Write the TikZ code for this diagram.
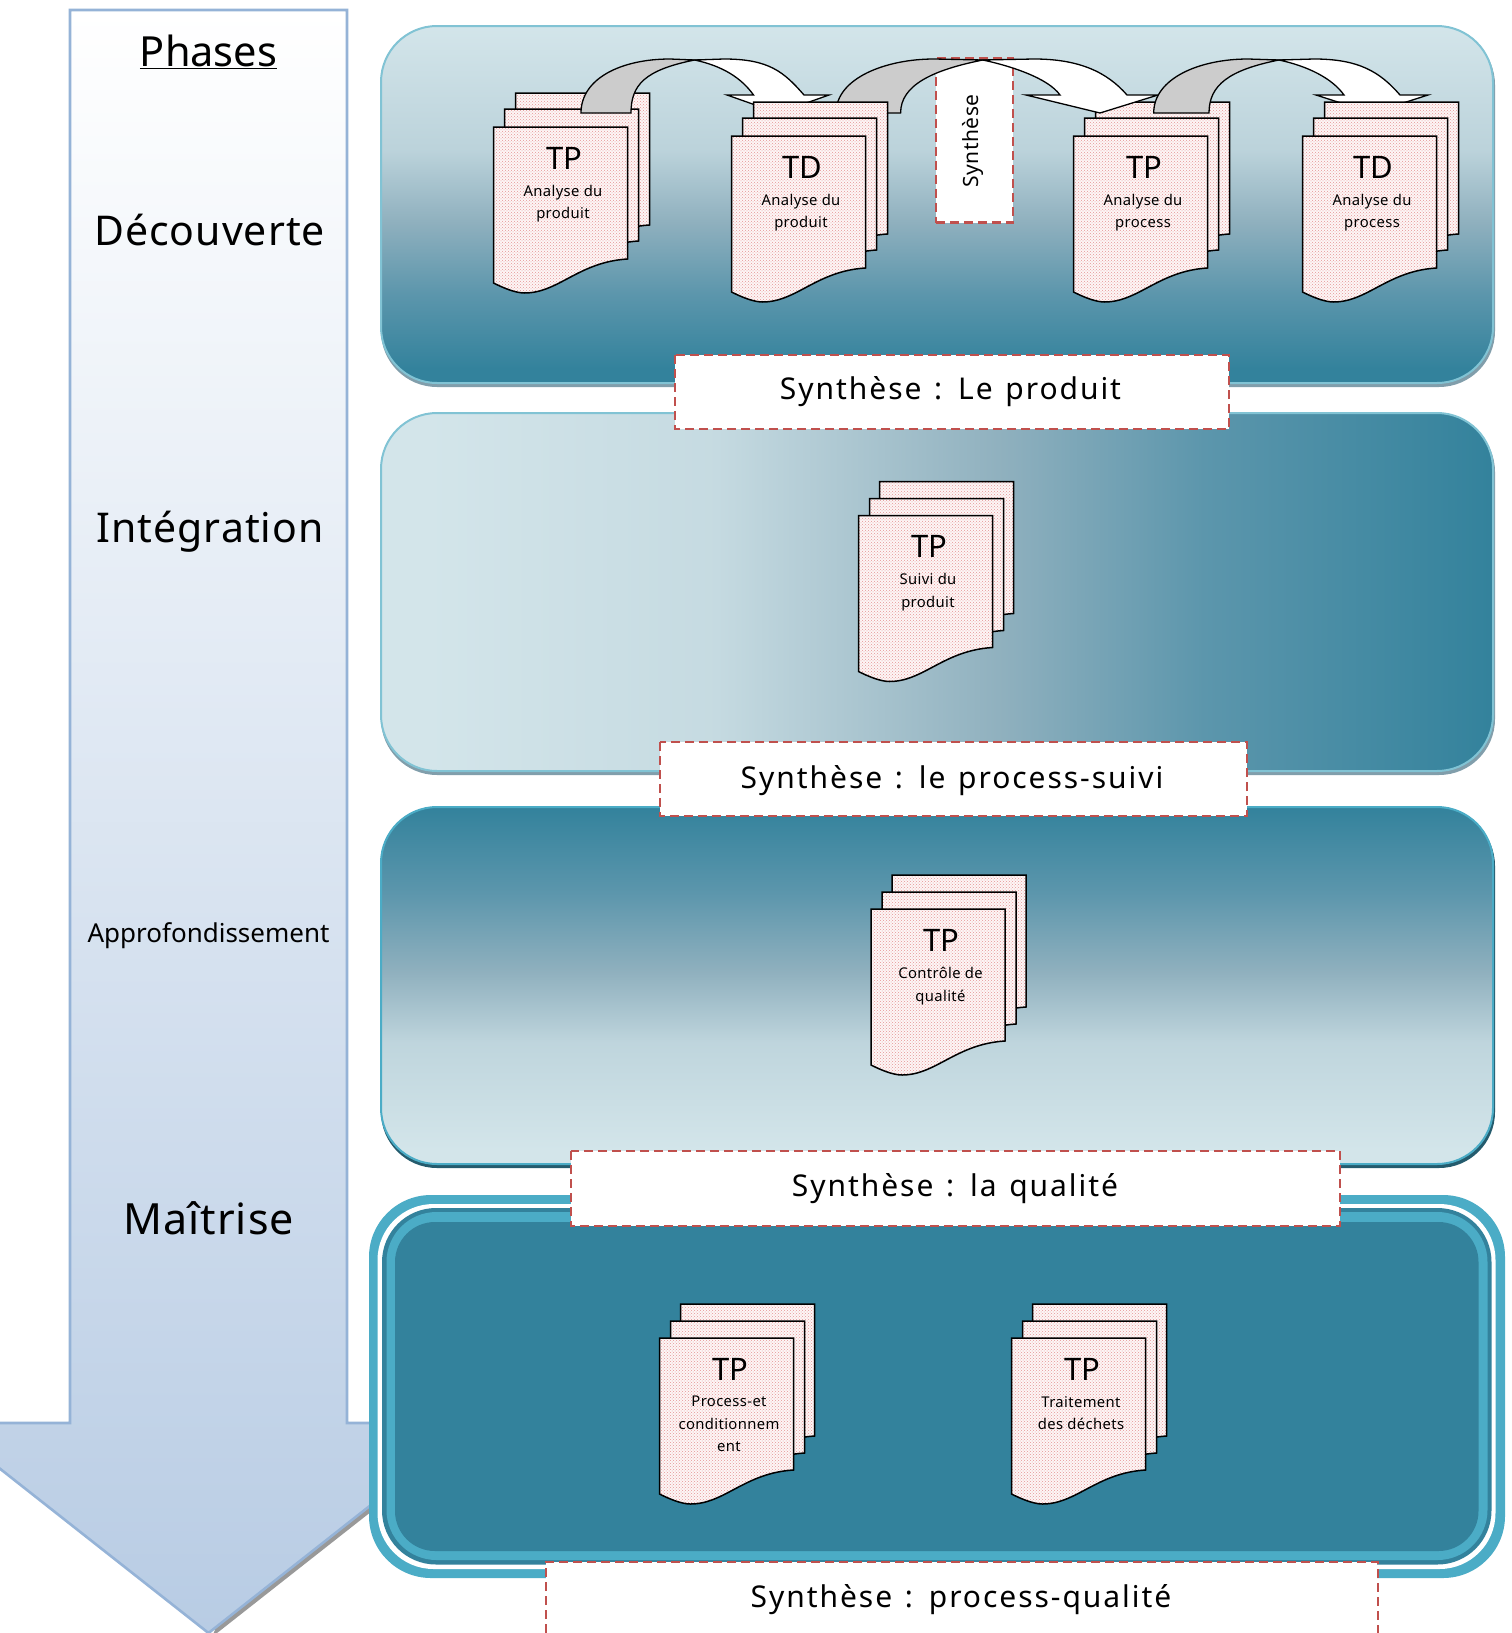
\documentclass[tikz,border=0pt]{standalone}
\usepackage{fontspec}
\setmainfont{Noto Sans}
\newfontfamily\spc[LetterSpace=2.5]{Noto Sans}
\newfontfamily\synf[LetterSpace=6.5,WordSpace=1.3]{Noto Sans}
\usetikzlibrary{patterns}
\definecolor{teal}{HTML}{33829C}
\definecolor{lite}{HTML}{4BACC6}
\definecolor{pale}{HTML}{D3E5EA}
\definecolor{mid}{HTML}{8FB0BE}
\definecolor{midb}{HTML}{5C96AC}
\definecolor{synred}{HTML}{C0504D}
\definecolor{arrowb}{HTML}{95B3D7}
\definecolor{arrowf}{HTML}{B8CCE4}
\definecolor{docdot}{HTML}{E59595}
\definecolor{docbase}{HTML}{FDF6F6}
\pgfdeclareverticalshading{panelone}{100bp}{color(0bp)=(teal);color(27bp)=(teal);color(37.5bp)=(midb);color(47.5bp)=(mid);color(57.5bp)=(pale!65!mid);color(75bp)=(pale);color(100bp)=(pale)}
\pgfdeclareverticalshading{panelthree}{100bp}{color(0bp)=(pale);color(27bp)=(pale);color(42bp)=(pale!70!mid);color(52bp)=(mid);color(63bp)=(midb);color(75bp)=(teal);color(100bp)=(teal)}
\pgfdeclarehorizontalshading{paneltwo}{100bp}{color(0bp)=(pale);color(27bp)=(pale);color(40bp)=(pale!80!mid);color(53bp)=(mid);color(62bp)=(midb);color(75bp)=(teal);color(100bp)=(teal)}
\pgfdeclareverticalshading{bigarrow}{100bp}{color(0bp)=(arrowf);color(25bp)=(arrowf);color(75bp)=(white);color(100bp)=(white)}
\tikzset{
 docshape/.style={draw=black,line width=1.5pt,line join=miter},
 synbox/.style={fill=white,draw=synred,line width=2.6pt,dash pattern=on 9pt off 5pt},
 grayband/.style={fill=black!20,draw=black,line width=1.3pt,line join=miter},
 whiteband/.style={fill=white,draw=black,line width=1.3pt,line join=miter},
 lbl/.style={inner sep=0pt,anchor=center,align=center,text=black},
}
\newcommand{\docpath}{(0,0) -- (134,0) -- (134,132) .. controls (85,135) and (65,166) .. (31,166) .. controls (22,166) and (10,161) .. (0,156) -- cycle}
\newcommand{\onedoc}{\fill[docbase] \docpath; \fill[pattern=crosshatch dots,pattern color=docdot] \docpath; \draw[docshape] \docpath;}
\newcommand{\docstack}[9]{% x y dx1 dy1 dx2 dy2 name title body
 \begin{scope}[shift={(#1,#2)}]
 \begin{scope}[shift={(#5,#6)}]\onedoc\end{scope}
 \begin{scope}[shift={(#3,#4)}]\onedoc\end{scope}
 \onedoc
 \node[lbl,font=\fontsize{31}{31}\selectfont] (#7t) at (70.5,31) {#8};
 \node[lbl,anchor=north,font=\fontsize{14.8}{22.5}\spc] (#7b) at (69.5,58) {#9};
 \end{scope}}
% curved arrow: Ax Bx Cx topL topR barbL innerbase outerbase barbR tipx
\newcommand{\curvedarrow}[9]{%
 \draw[whiteband] (#3,60) -- (#5,59) .. controls ({#5+45},59) and ({#8-20},72) .. (#8,95) -- (#9,95) -- (\tipx,113) -- (#6,95) -- (#7,95) .. controls ({#7-12},78) and ({#3+28},66) .. (#3,60) -- cycle;
 \draw[grayband] (#1,113) .. controls (#1,78) and ({#4-48},59) .. (#4,59) -- (#3,60) .. controls ({#3-50},70) and (#2,85) .. (#2,113) -- cycle;}
\begin{document}
\begin{tikzpicture}[x=1pt,y=-1pt]
\useasboundingbox (0,0) rectangle (1512,1633);
\clip (0,0) rectangle (1512,1633);
\fill[white] (0,0) rectangle (1512,1633);
% phase arrow
\fill[black!40] (212,1637) -- (480,1426) -- (300,1426) -- cycle;
\path[shading=bigarrow,draw=arrowb,line width=2.6pt,line join=miter] (70,10) -- (347,10) -- (347,1423) -- (475,1423) -- (208.5,1633) -- (-58,1423) -- (70,1423) -- cycle;
\node[lbl,font=\fontsize{41.5}{41.5}\selectfont] (ph) at (208.5,52) {\underline{Phases}};
\node[lbl,font=\fontsize{41}{41}\spc] (p1) at (209.5,230) {Découverte};
\node[lbl,font=\fontsize{41}{41}\spc] (p2) at (210,532) {Intégration};
\node[lbl,font=\fontsize{26}{26}\selectfont] (p3) at (208.5,936) {Approfondissement};
\node[lbl,font=\fontsize{43}{43}\spc] (p4) at (208.5,1218) {Maîtrise};
% panel 1
\fill[black!10!mid,rounded corners=56pt] (381,29) rectangle (1495,387);
\path[shading=panelone,draw=lite!60!pale,line width=2pt,rounded corners=56pt] (381,26) rectangle (1493,383);
% panel 2
\fill[black!10!mid,rounded corners=56pt] (381,416) rectangle (1495,775);
\path[shading=paneltwo,draw=lite!60!pale,line width=2pt,rounded corners=56pt] (381,413) rectangle (1493,771);
% panel 3
\fill[teal!70!black,rounded corners=56pt] (381,810) rectangle (1495,1168);
\path[shading=panelthree,draw=lite,line width=2pt,rounded corners=56pt] (381,807) rectangle (1493,1164);
% panel 4
\fill[lite,rounded corners=62pt] (369,1195) rectangle (1505,1578);
\fill[white,rounded corners=56pt] (377.5,1204) rectangle (1495.5,1569);
\fill[teal,rounded corners=54pt] (382,1208) rectangle (1491.5,1564.5);
\fill[lite,rounded corners=50pt] (386.5,1212) rectangle (1487.5,1560);
\fill[teal,rounded corners=40pt] (395,1222) rectangle (1478.5,1551);
% synthese boxes
\node[synbox,inner sep=0pt,minimum width=77pt,minimum height=164pt] (sv) at (974.5,140.5) {};
\node[lbl,rotate=90,font=\fontsize{21}{21}\spc] (svt) at (973,141) {Synthèse};
\draw[synbox] (675,355) rectangle (1229,429);
\node[lbl,font=\fontsize{30}{30}\synf] (s1) at (950.5,392) {Synthèse : Le produit};
\draw[synbox] (660,742) rectangle (1247,816);
\node[lbl,font=\fontsize{30}{30}\synf] (s2) at (952,781) {Synthèse : le process-suivi};
\draw[synbox] (571,1151) rectangle (1340,1226);
\node[lbl,font=\fontsize{30}{30}\synf] (s3) at (955,1189) {Synthèse : la qualité};
\fill[white] (546,1562) rectangle (1377,1633);
\draw[synred,line width=2.6pt,dash pattern=on 9pt off 5pt] (546,1633) -- (546,1562) -- (1378,1562) -- (1378,1633);
\node[lbl,font=\fontsize{30}{30}\synf] (s4) at (961,1600) {Synthèse : process-qualité};
% top stacks and arrows
\docstack{493.5}{127}{11}{-18}{22}{-34}{da}{TP}{Analyse du\\produit}
\docstack{1073.5}{136}{11}{-18}{22}{-34}{dc}{TP}{Analyse du\\process}
\def\tipx{778}
\curvedarrow{581}{631}{694.6}{670}{724}{727}{753.5}{804}{829}
\def\tipx{1100}
\curvedarrow{836}{900.6}{982.8}{934}{1034}{1026}{1060}{1127}{1158}
\def\tipx{1372}
\curvedarrow{1153.7}{1209}{1279}{1248}{1314}{1316}{1344}{1400}{1428}
\docstack{731.5}{136}{11}{-18}{22}{-34}{db}{TD}{Analyse du\\produit}
\docstack{1302.5}{136}{11}{-18}{22}{-34}{dd}{TD}{Analyse du\\process}
% other stacks
\docstack{858.5}{515.5}{11}{-17}{21}{-34}{de}{TP}{Suivi du\\produit}
\docstack{871}{909}{11}{-17}{21}{-34}{df}{TP}{Contrôle de\\qualité}
\docstack{659.5}{1338}{11}{-17}{21}{-34}{dg}{TP}{Process-et\\conditionnem\\ent}
\docstack{1011.5}{1338}{11}{-17}{21}{-34}{dh}{TP}{Traitement\\des déchets}
\end{tikzpicture}
\end{document}
